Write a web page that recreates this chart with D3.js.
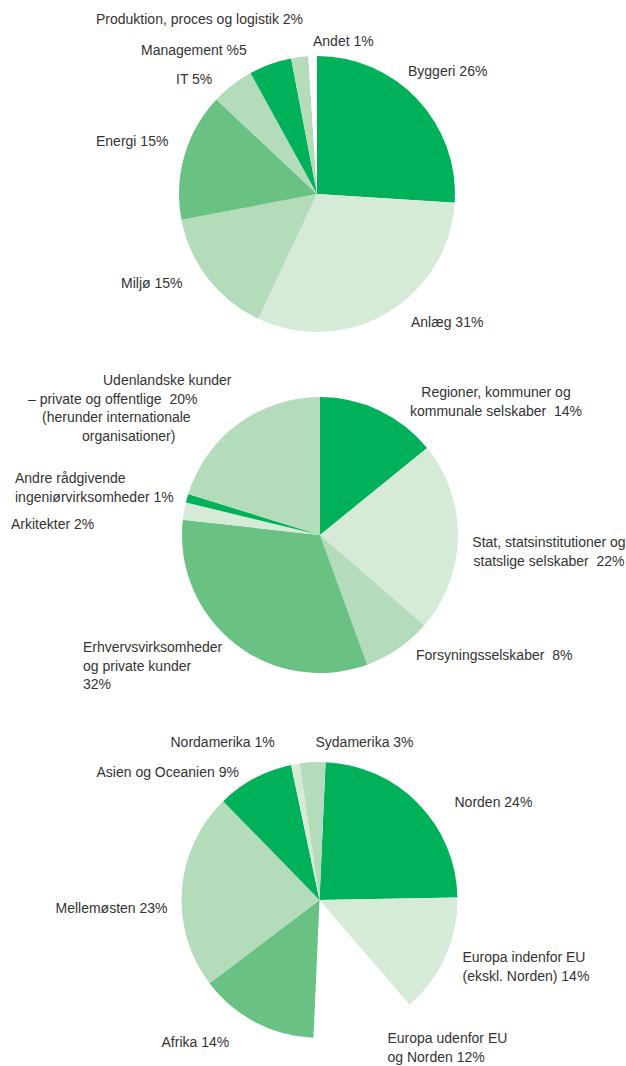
<!DOCTYPE html>
<html lang="en">

<head>
    <meta charset="utf-8">
    <script src="https://d3js.org/d3.v7.min.js"></script>
    <style>
        body {
            margin: 0;
            background: white;
        }

        text {
            font-family: "Liberation Sans", Arial, sans-serif;
            font-size: 14px;
            fill: #333;
            white-space: pre;
        }
    </style>
</head>

<body>

    <svg id="pies" width="626" height="1066"></svg>

    <script>
        // pie 1 - fagområder
        const areaNames = ["Byggeri", "Anlæg", "Miljø", "Energi", "IT", "Management", "Produktion", "Andet"];
        const areaValues = [26, 31, 15, 15, 5, 5, 2, 1];

        // pie 2 - kundetyper
        const clientNames = ["Regioner", "Stat", "Forsyning", "Erhverv", "Arkitekter", "Andre", "Udenlandske"];
        const clientValues = [14, 22, 8, 32, 2, 1, 20];

        // pie 3 - regioner
        const regionNames = ["Norden", "EuropaEU", "EuropaUdenfor", "Afrika", "Mellemøsten", "Asien", "Nordamerika", "Sydamerika"];
        const regionValues = [24, 14, 12, 14, 23, 9, 1, 3];

        // label texts
        const areaLabels = [["Byggeri 26%"], ["Anlæg 31%"], ["Miljø 15%"], ["Energi 15%"], ["IT 5%"],
            ["Management %5"], ["Produktion, proces og logistik 2%"], ["Andet 1%"]];
        const clientLabels = [["Regioner, kommuner og", "kommunale selskaber  14%"],
            ["Stat, statsinstitutioner og", "statslige selskaber  22%"],
            ["Forsyningsselskaber  8%"],
            ["Erhvervsvirksomheder", "og private kunder", "32%"],
            ["Arkitekter 2%"],
            ["Andre rådgivende", "ingeniørvirksomheder 1%"],
            ["Udenlandske kunder", "– private og offentlige  20%", "(herunder internationale", "organisationer)"]];
        const regionLabels = [["Norden 24%"], ["Europa indenfor EU", "(ekskl. Norden) 14%"],
            ["Europa udenfor EU", "og Norden 12%"], ["Afrika 14%"], ["Mellemøsten 23%"],
            ["Asien og Oceanien 9%"], ["Nordamerika 1%"], ["Sydamerika 3%"]];

        // colours
        const dark = "#00b15a", mid = "#69c283", light = "#b4dcbb", pale = "#d5ebd7", blank = "#ffffff";
        const areaShades = [dark, pale, light, mid, light, dark, light, blank];
        const clientShades = [dark, pale, light, mid, pale, dark, light];
        const regionShades = [dark, pale, blank, mid, light, dark, pale, light];

        // label placement relative to pie centre: [x, y, anchor, per-line x]
        const areaPos = [[91, -118], [94, 133], [-196, 94], [-221, -48], [-141, -110],
            [-176, -139], [-221, -170], [-4, -148]];
        const clientPos = [[176, -138, "middle"], [229, 12, "middle"], [96, 125], [-237, 117],
            [-309, -6], [-305, -52], [-217, -150, "start", [0, -75, -61, -21]]];
        const regionPos = [[135, -93], [143, 62], [68, 143], [-158, 147], [-264, 13],
            [-223, -123], [-149, -153], [-4, -153]];

        const svg = d3.select("svg#pies");
        const radius = 138;

        function drawPie(cx, cy, start, values, shades, labels, pos) {
            let g = svg.append("g")
                .attr("transform", `translate(${cx},${cy})`);

            let pie = d3.pie().sort(null)
                .startAngle(start)
                .endAngle(start + 2 * Math.PI);
            let arc = d3.arc().innerRadius(0).outerRadius(radius);

            g.selectAll("path.slice")
                .data(pie(values))
                .join("path")
                .attr("class", "slice")
                .attr("d", arc)
                .attr("fill", (d, i) => shades[i]);

            labels.forEach((lines, i) => {
                let p = pos[i];
                let t = g.append("text")
                    .attr("x", p[0])
                    .attr("y", p[1])
                    .attr("text-anchor", p[2] || "start");
                lines.forEach((line, j) => {
                    let dx = p[3] ? p[3][j] : 0;
                    t.append("tspan")
                        .attr("x", p[0] + dx)
                        .attr("y", p[1] + j * 18.5)
                        .text(line);
                });
            });
        }

        drawPie(317, 194, 0, areaValues, areaShades, areaLabels, areaPos);
        drawPie(320, 535, 0, clientValues, clientShades, clientLabels, clientPos);
        drawPie(319.5, 900, 0.044, regionValues, regionShades, regionLabels, regionPos);
    </script>

</body>

</html>
